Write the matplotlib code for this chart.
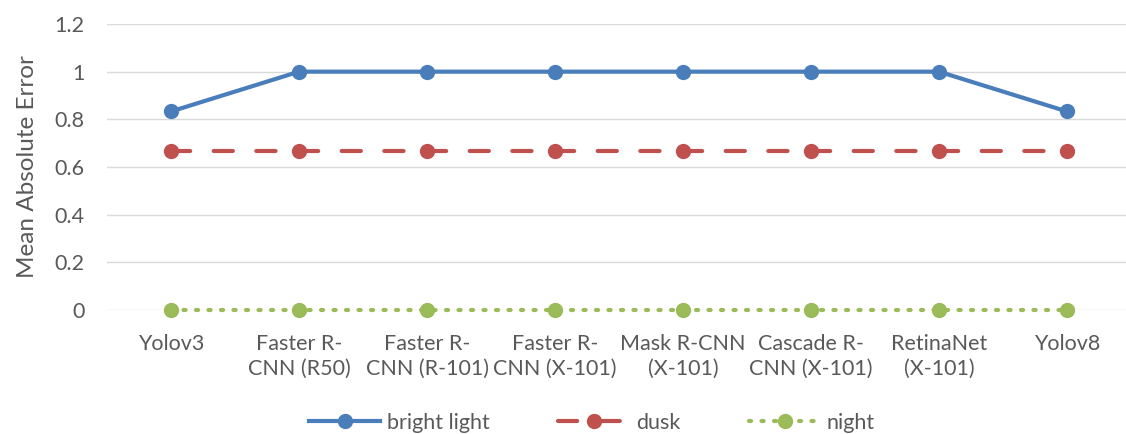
import matplotlib
matplotlib.use("Agg")
import matplotlib.pyplot as plt

categories = ["Yolov3", "Faster R-\nCNN (R50)", "Faster R-\nCNN (R-101)", "Faster R-\nCNN (X-101)",
              "Mask R-CNN\n(X-101)", "Cascade R-\nCNN (X-101)", "RetinaNet\n(X-101)", "Yolov8"]
bright = [0.833, 1, 1, 1, 1, 1, 1, 0.833]
dusk = [0.667] * 8
night = [0.0] * 8
yticks = [0, 0.2, 0.4, 0.6, 0.8, 1, 1.2]
ytick_labels = ["0", "0.2", "0.4", "0.6", "0.8", "1", "1.2"]

plt.rcParams['font.family'] = ['Lato', 'DejaVu Sans']
txt = '#595959'

fig = plt.figure(figsize=(11.26, 4.34), dpi=100)
ax = fig.add_axes([107/1126, (434-310)/434, (1131-107)/1126, (310-24)/434])
x = list(range(len(categories)))

lw = 3
unit = lw * 100 / 72
period = 128 / 3 / unit
dash = 4.6
ax.plot(x, bright, color='#4A7EBB', lw=lw, marker='o', ms=10, label='bright light', clip_on=False, zorder=5)
ax.plot(x, dusk, color='#C0504D', lw=lw, ls=(0, (dash, period - dash)), marker='o', ms=10, label='dusk',
        clip_on=False, zorder=4, dash_capstyle='round')
ax.plot(x, night, color='#9BBB59', lw=lw, ls=(0, (0.5, 2.5)), marker='o', ms=10, label='night', clip_on=False,
        zorder=6, dash_capstyle='round')

ax.set_xlim(-0.5, 7.5)
ax.set_ylim(0, 1.2)
ax.set_yticks(yticks)
ax.set_yticklabels(ytick_labels)
ax.set_xticks(x)
ax.set_xticklabels(categories, linespacing=1.35)
ax.grid(axis='y', color='#D9D9D9', lw=1)
ax.set_axisbelow(True)
for s in ax.spines.values():
    s.set_visible(False)
ax.tick_params(axis='both', length=0, labelsize=15.5, colors=txt)
ax.tick_params(axis='x', pad=17)
ax.tick_params(axis='y', pad=16)
ax.set_ylabel('Mean Absolute Error', fontsize=17.5, color=txt, labelpad=12)

leg = fig.legend(loc='center', bbox_to_anchor=(592/1126, 1 - 423/434), ncol=3, frameon=False,
                 fontsize=15.5, handlelength=3.3, columnspacing=3.2, handletextpad=0.3)
for t in leg.get_texts():
    t.set_color(txt)

fig.savefig('out.png', dpi=100)
